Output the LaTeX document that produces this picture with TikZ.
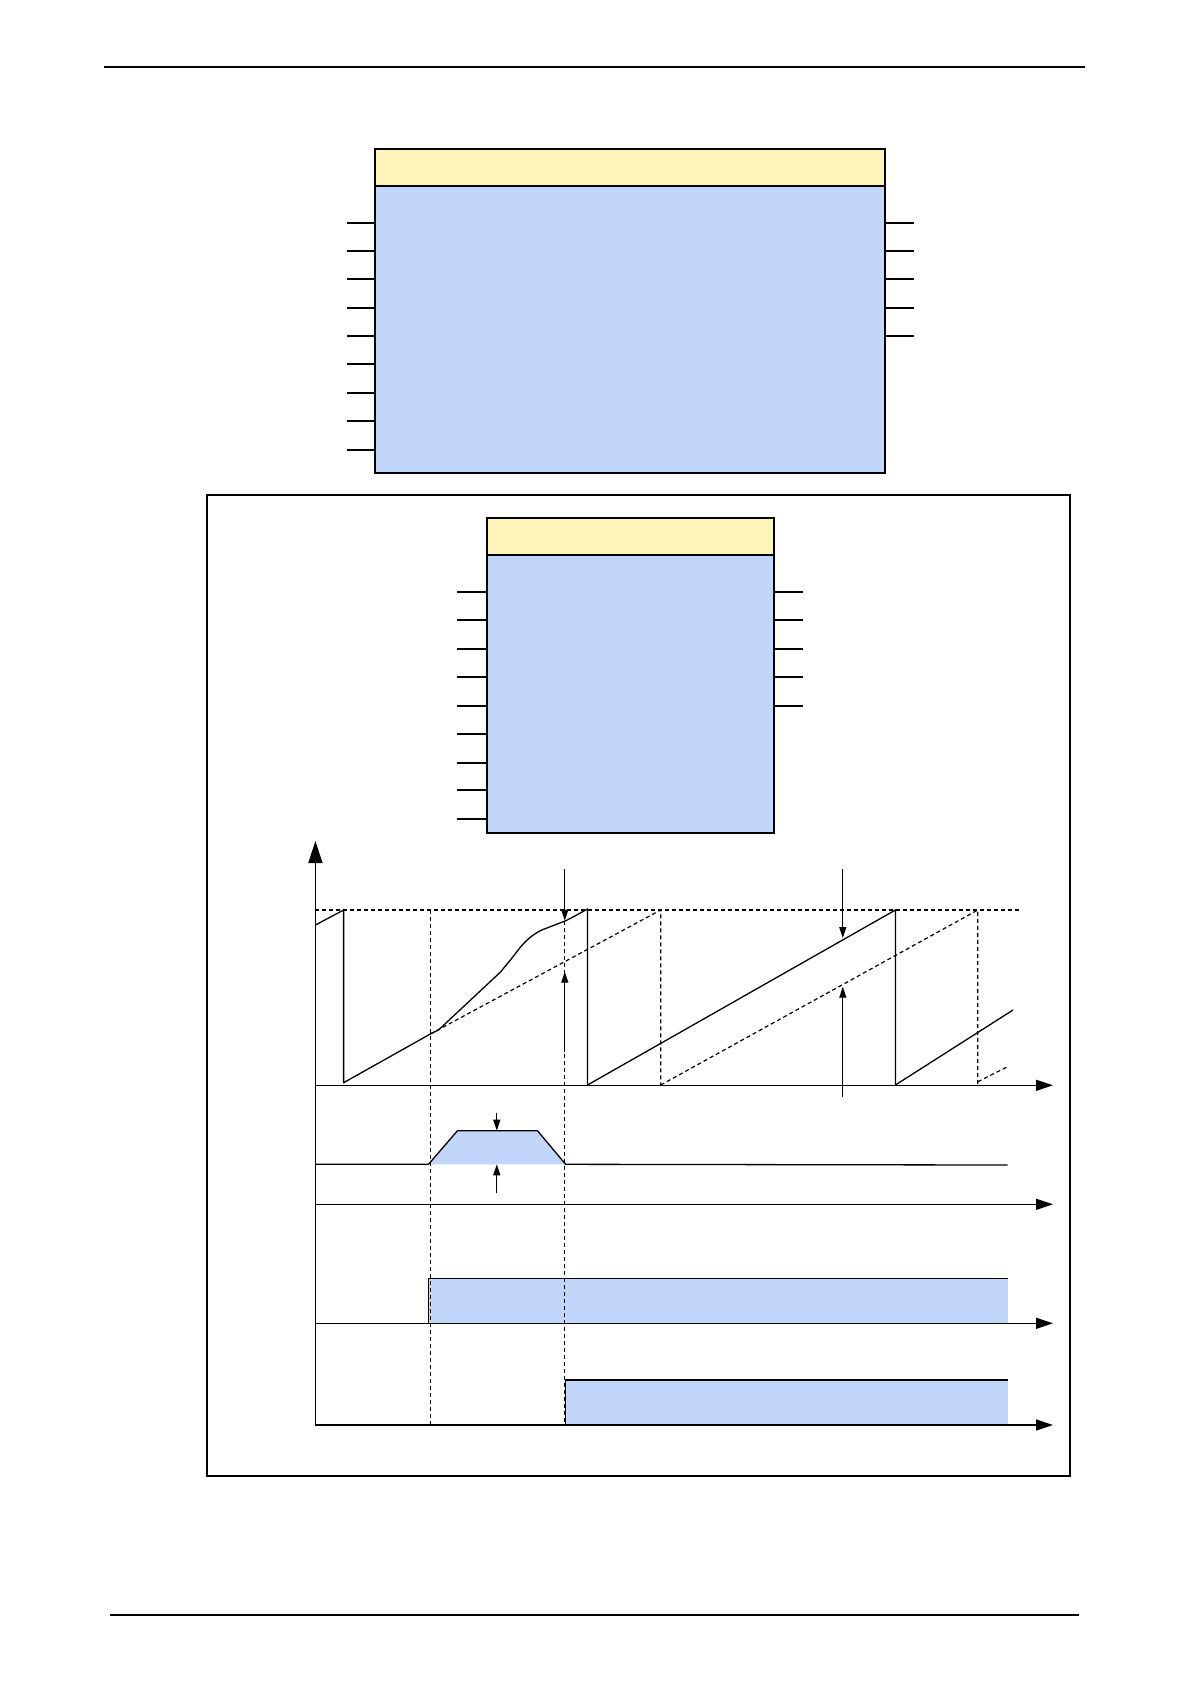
\documentclass[tikz,border=0pt]{standalone}
\usetikzlibrary{arrows.meta}
\definecolor{blk}{RGB}{194,213,250}
\definecolor{hdr}{RGB}{254,243,184}
\tikzset{
  boxline/.style={line width=1.6pt},
  pin/.style={line width=2pt},
  sig/.style={line width=1.3pt},
  dsh/.style={line width=1.2pt, dash pattern=on 4pt off 3pt},
  axis/.style={line width=1.5pt, -{Triangle[length=17pt,width=11pt]}},
  marker/.style={line width=1.3pt, -{Triangle[length=11pt,width=7pt]}},
}
\begin{document}
\begin{tikzpicture}[x=1pt,y=-1pt]
\useasboundingbox (0,0) rectangle (1190,1684);
% page rules
\draw[line width=2.2pt] (104,67) -- (1085,67);
\draw[line width=1.3pt] (110,1615) -- (1079,1615);
% top block
\path[fill=blk] (375,186) rectangle (885,473);
\path[fill=hdr] (375,149) rectangle (885,186);
\draw[boxline] (375,149) rectangle (885,473);
\draw[boxline] (375,186) -- (885,186);
\foreach \y in {223,251,279,308,336,364,393,421,450} \draw[pin] (347,\y) -- (375,\y);
\foreach \y in {223,251,279,308,336} \draw[pin] (885,\y) -- (914,\y);
% outer frame
\draw[line width=1.3pt] (207,495) rectangle (1070,1476);
% second block
\path[fill=blk] (487,555) rectangle (774,833);
\path[fill=hdr] (487,518) rectangle (774,555);
\draw[boxline] (487,518) rectangle (774,833);
\draw[boxline] (487,555) -- (774,555);
\foreach \y in {592,620,649,677,706,734,763,790,819} \draw[pin] (457,\y) -- (487,\y);
\foreach \y in {592,620,649,677,706} \draw[pin] (774,\y) -- (803,\y);
% fills of signals
\path[fill=blk] (428.5,1164.3) -- (457.5,1130.7) -- (537.5,1130.7) -- (565.6,1164.3) -- cycle;
\path[fill=blk] (428.5,1278.3) rectangle (1007.7,1323.3);
\path[fill=blk] (565.6,1380) rectangle (1007.7,1425);
% axes
\draw[line width=1.5pt, -{Triangle[length=22pt,width=14pt]}] (315.4,1425) -- (315.4,841);
\draw[axis] (315.4,1085.3) -- (1053,1085.3);
\draw[axis] (315.4,1204.3) -- (1053,1204.3);
\draw[axis] (315.4,1323.3) -- (1053,1323.3);
\draw[axis] (315.4,1425) -- (1053,1425);
% dashed guides
\draw[dsh] (315.4,910) -- (1021,910);
\draw[dsh] (430.3,910) -- (430.3,1425);
\draw[dsh] (564.8,920.7) -- (564.8,1425);
\draw[dsh] (430.3,1034) -- (660.7,910) -- (660.7,1085);
\draw[dsh] (660.7,1085) -- (977.8,910) -- (977.8,1085);
\draw[dsh] (977.8,1081.7) -- (1007.6,1066.7);
% sawtooth
\draw[sig,line join=round] (315.4,925) -- (343.6,910) -- (343.6,1082.7) -- (430.3,1034)
  -- (438.5,1030) -- (500.8,971.7) -- (514.4,955) .. controls (525,940) and (535,932) .. (546.9,928)
  -- (565.9,920.7) -- (576.7,915) -- (587.5,909) -- (587.5,1085);
\draw[sig] (587.5,1085) -- (895.4,910) -- (895.4,1085);
\draw[sig] (895.4,1085) -- (1013,1010);
% markers
\draw[marker] (564.8,869) -- (564.8,920.7);
\draw[marker] (564.8,1051.7) -- (564.8,971.7);
\draw[marker] (842.8,869) -- (842.8,938);
\draw[marker] (842.8,1096.7) -- (842.8,986.7);
% trapezoid signal
\draw[sig,line join=round] (316,1164.3) -- (428.5,1164.3) -- (457.5,1130.7) -- (537.5,1130.7) -- (565.6,1164.3) -- (1007.7,1165);
\draw[marker] (496.8,1112.7) -- (496.8,1130.7);
\draw[marker] (496.8,1193.3) -- (496.8,1164.3);
% step signals
\draw[sig] (428.5,1323.3) -- (428.5,1278.3) -- (1007.7,1278.3);
\draw[sig] (565.6,1425) -- (565.6,1380) -- (1007.7,1380);
\end{tikzpicture}
\end{document}
